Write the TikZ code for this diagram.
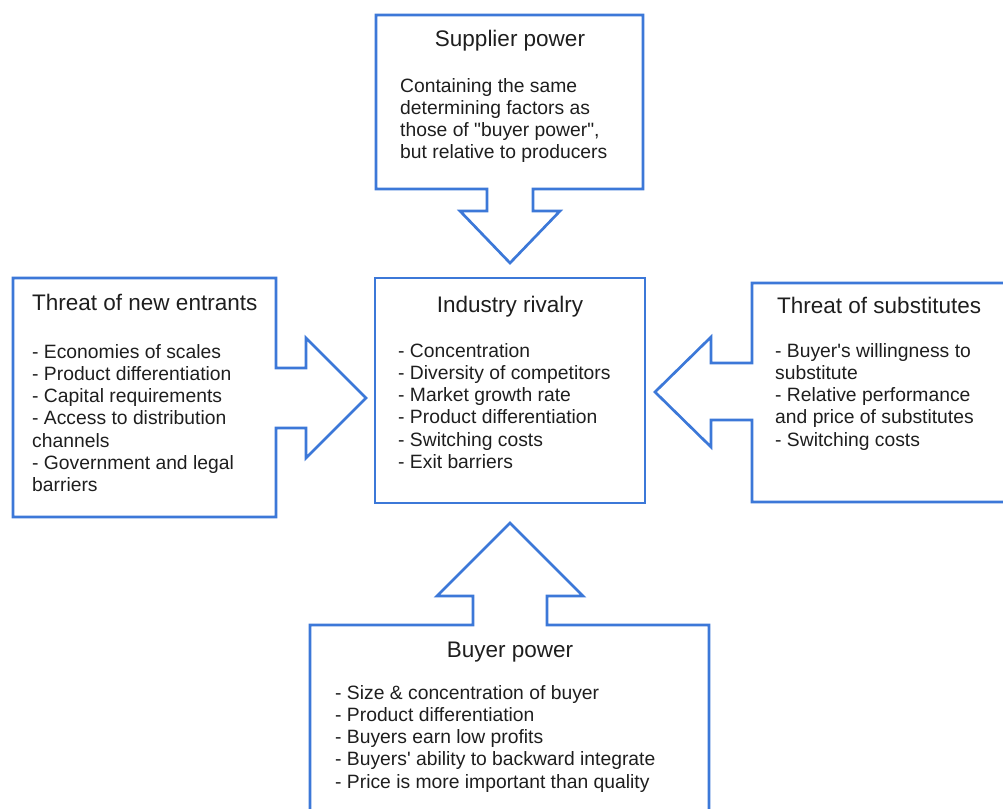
\documentclass[tikz,border=0pt]{standalone}
\usepackage{fontspec}
\setmainfont{Liberation Sans}[Ligatures=TeXOff]
\definecolor{outline}{HTML}{3C78D8}
\definecolor{ink}{HTML}{1E1E1E}
\begin{document}
\begin{tikzpicture}[x=1pt,y=-1pt,
  forceshape/.style={draw=outline,line width=2.7pt,line join=miter},
  title/.style={inner sep=0pt,text=ink,font=\fontsize{22.5}{26}\selectfont},
  % list nodes are placed by the baseline of their last line
  body/.style={inner sep=0pt,text=ink,align=left,anchor=base west,
    font=\fontsize{19.3}{22.3}\selectfont}]
\useasboundingbox (0,0) rectangle (1003,808);
\clip (0,0) rectangle (1003,808);

% supplier power box with its downward arrow
\draw[forceshape] (376,15) -- (643,15) -- (643,189) -- (533,189) -- (533,211)
  -- (560,211) -- (510,263) -- (460,211) -- (487,211) -- (487,189)
  -- (376,189) -- cycle;

% threat of new entrants box with its arrow to the right
\draw[forceshape] (13,278) -- (276,278) -- (276,368) -- (306,368) -- (306,338)
  -- (366,398) -- (306,458) -- (306,428) -- (276,428) -- (276,517)
  -- (13,517) -- cycle;

% threat of substitutes box with its arrow to the left
\draw[forceshape] (1015,283) -- (752,283) -- (752,363) -- (711,363) -- (711,337)
  -- (655,392) -- (711,447) -- (711,420) -- (752,420) -- (752,502)
  -- (1015,502);

% buyer power box with its upward arrow
\draw[forceshape] (310,820) -- (310,625) -- (473,625) -- (473,596) -- (437,596)
  -- (510,523) -- (583,596) -- (547,596) -- (547,625) -- (709,625)
  -- (709,820);

% industry rivalry box
\draw[forceshape] (375,278) rectangle (645,503);

% titles
\node[title,anchor=base] (suptitle) at (510,47) {Supplier power};
\node[title,anchor=base] (indtitle) at (510,312) {Industry rivalry};
\node[title,anchor=base west] (newtitle) at (32,310) {Threat of new entrants};
\node[title,anchor=base west] (subtitle) at (777,313) {Threat of substitutes};
\node[title,anchor=base] (buytitle) at (510,657) {Buyer power};

% lists
\node[body] (suptext) at (400,158.9) {Containing the same\\determining factors as\\those of "buyer power",\\but relative to producers};
\node[body] (indtext) at (398,468.5) {- Concentration\\- Diversity of competitors\\- Market growth rate\\- Product differentiation\\- Switching costs\\- Exit barriers};
\node[body] (newtext) at (32,491.8) {- Economies of scales\\- Product differentiation\\- Capital requirements\\- Access to distribution\\channels\\- Government and legal\\barriers};
\node[body] (subtext) at (775,446.2) {- Buyer's willingness to\\substitute\\- Relative performance\\and price of substitutes\\- Switching costs};
\node[body] (buytext) at (335,788.2) {- Size \& concentration of buyer\\- Product differentiation\\- Buyers earn low profits\\- Buyers' ability to backward integrate\\- Price is more important than quality};
\end{tikzpicture}
\end{document}
